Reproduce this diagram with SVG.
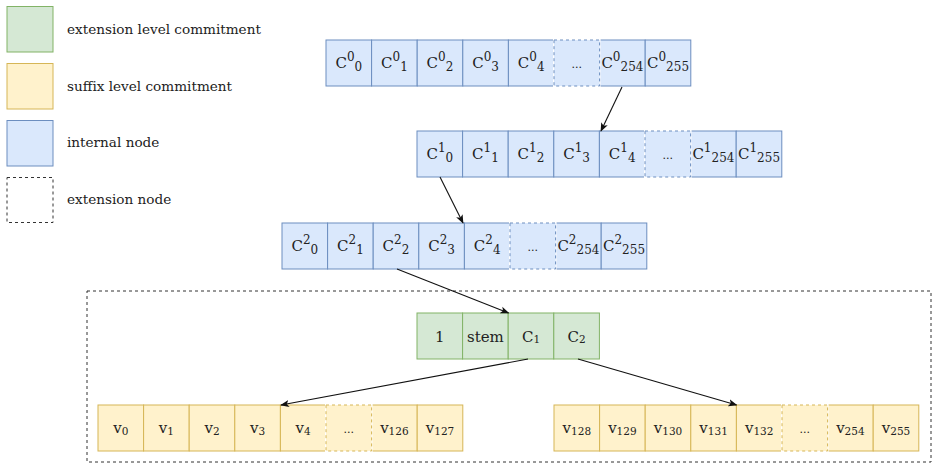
<svg xmlns="http://www.w3.org/2000/svg" width="938" height="471" viewBox="0 0 938 471">
<style>
text{font-family:"DejaVu Serif","Liberation Serif",serif;fill:#222}
.lg{font-size:13.6px}
.t{font-size:15px;text-anchor:middle}
.s{font-size:12px}
.s2{font-size:10.5px}
.el{font-size:11px}
.b{fill:#dae8fc;stroke:#6c8ebf;stroke-width:1}
.g{fill:#d5e8d4;stroke:#82b366;stroke-width:1}
.y{fill:#fff2cc;stroke:#d6b656;stroke-width:1}
.d{stroke-dasharray:3 3}
.er{fill:#ffffff;stroke:none}
.ext{fill:none;stroke:#333;stroke-width:1;stroke-dasharray:3 3}
.c{fill:none;stroke:#111;stroke-width:1.1;marker-end:url(#ah)}
</style>
<defs>
<marker id="ah" viewBox="0 0 10 10" refX="9" refY="5" markerWidth="9" markerHeight="9" markerUnits="userSpaceOnUse" orient="auto">
<path d="M0,1 L10,5 L0,9 L2.5,5 Z" fill="#111"/>
</marker>
</defs>
<rect width="938" height="471" fill="#ffffff"/>

<g id="legend-extension-commitment">
<rect class="g" x="7" y="6.5" width="46" height="45.5"/>
<text class="lg" x="67" y="34">extension level commitment</text>
</g>
<g id="legend-suffix-commitment">
<rect class="y" x="7" y="63.5" width="46" height="45.5"/>
<text class="lg" x="67" y="91">suffix level commitment</text>
</g>
<g id="legend-internal-node">
<rect class="b" x="7" y="120.5" width="46" height="45.5"/>
<text class="lg" x="67" y="147">internal node</text>
</g>
<g id="legend-extension-node">
<rect class="ext" x="7" y="177.5" width="46" height="45"/>
<text class="lg" x="67" y="204">extension node</text>
</g>

<g id="extension-node">
<rect class="ext" x="87" y="291" width="844" height="171"/>
</g>

<g id="internal-node-0">
<rect class="b" x="326" y="40" width="45.6" height="46"/>
<rect class="b" x="371.6" y="40" width="45.6" height="46"/>
<rect class="b" x="417.2" y="40" width="45.6" height="46"/>
<rect class="b" x="462.8" y="40" width="45.6" height="46"/>
<rect class="b" x="508.4" y="40" width="45.6" height="46"/>
<rect class="b" x="599.6" y="40" width="45.6" height="46"/>
<rect class="b" x="645.2" y="40" width="45.6" height="46"/>
<rect class="er" x="553" y="39" width="47.6" height="48"/>
<rect class="b d" x="554" y="40" width="45.6" height="46"/>
<text class="t" x="348.8" y="67.5">C<tspan class="s" dy="-7">0</tspan><tspan class="s" dy="10">0</tspan></text>
<text class="t" x="394.4" y="67.5">C<tspan class="s" dy="-7">0</tspan><tspan class="s" dy="10">1</tspan></text>
<text class="t" x="440" y="67.5">C<tspan class="s" dy="-7">0</tspan><tspan class="s" dy="10">2</tspan></text>
<text class="t" x="485.6" y="67.5">C<tspan class="s" dy="-7">0</tspan><tspan class="s" dy="10">3</tspan></text>
<text class="t" x="531.2" y="67.5">C<tspan class="s" dy="-7">0</tspan><tspan class="s" dy="10">4</tspan></text>
<text class="t el" x="576.8" y="67.5">...</text>
<text class="t" x="622.4" y="67.5">C<tspan class="s" dy="-7">0</tspan><tspan class="s" dy="10">254</tspan></text>
<text class="t" x="668" y="67.5">C<tspan class="s" dy="-7">0</tspan><tspan class="s" dy="10">255</tspan></text>
</g>

<g id="internal-node-1">
<rect class="b" x="417" y="131" width="45.6" height="46"/>
<rect class="b" x="462.6" y="131" width="45.6" height="46"/>
<rect class="b" x="508.2" y="131" width="45.6" height="46"/>
<rect class="b" x="553.8" y="131" width="45.6" height="46"/>
<rect class="b" x="599.4" y="131" width="45.6" height="46"/>
<rect class="b" x="690.6" y="131" width="45.6" height="46"/>
<rect class="b" x="736.2" y="131" width="45.6" height="46"/>
<rect class="er" x="644" y="130" width="47.6" height="48"/>
<rect class="b d" x="645" y="131" width="45.6" height="46"/>
<text class="t" x="439.8" y="158.5">C<tspan class="s" dy="-7">1</tspan><tspan class="s" dy="10">0</tspan></text>
<text class="t" x="485.4" y="158.5">C<tspan class="s" dy="-7">1</tspan><tspan class="s" dy="10">1</tspan></text>
<text class="t" x="531" y="158.5">C<tspan class="s" dy="-7">1</tspan><tspan class="s" dy="10">2</tspan></text>
<text class="t" x="576.6" y="158.5">C<tspan class="s" dy="-7">1</tspan><tspan class="s" dy="10">3</tspan></text>
<text class="t" x="622.2" y="158.5">C<tspan class="s" dy="-7">1</tspan><tspan class="s" dy="10">4</tspan></text>
<text class="t el" x="667.8" y="158.5">...</text>
<text class="t" x="713.4" y="158.5">C<tspan class="s" dy="-7">1</tspan><tspan class="s" dy="10">254</tspan></text>
<text class="t" x="759" y="158.5">C<tspan class="s" dy="-7">1</tspan><tspan class="s" dy="10">255</tspan></text>
</g>

<g id="internal-node-2">
<rect class="b" x="282" y="223" width="45.6" height="46"/>
<rect class="b" x="327.6" y="223" width="45.6" height="46"/>
<rect class="b" x="373.2" y="223" width="45.6" height="46"/>
<rect class="b" x="418.8" y="223" width="45.6" height="46"/>
<rect class="b" x="464.4" y="223" width="45.6" height="46"/>
<rect class="b" x="555.6" y="223" width="45.6" height="46"/>
<rect class="b" x="601.2" y="223" width="45.6" height="46"/>
<rect class="er" x="509" y="222" width="47.6" height="48"/>
<rect class="b d" x="510" y="223" width="45.6" height="46"/>
<text class="t" x="304.8" y="250.5">C<tspan class="s" dy="-7">2</tspan><tspan class="s" dy="10">0</tspan></text>
<text class="t" x="350.4" y="250.5">C<tspan class="s" dy="-7">2</tspan><tspan class="s" dy="10">1</tspan></text>
<text class="t" x="396" y="250.5">C<tspan class="s" dy="-7">2</tspan><tspan class="s" dy="10">2</tspan></text>
<text class="t" x="441.6" y="250.5">C<tspan class="s" dy="-7">2</tspan><tspan class="s" dy="10">3</tspan></text>
<text class="t" x="487.2" y="250.5">C<tspan class="s" dy="-7">2</tspan><tspan class="s" dy="10">4</tspan></text>
<text class="t el" x="532.8" y="250.5">...</text>
<text class="t" x="578.4" y="250.5">C<tspan class="s" dy="-7">2</tspan><tspan class="s" dy="10">254</tspan></text>
<text class="t" x="624" y="250.5">C<tspan class="s" dy="-7">2</tspan><tspan class="s" dy="10">255</tspan></text>
</g>

<g id="extension-commitment">
<rect class="g" x="417" y="313" width="45.6" height="46"/>
<rect class="g" x="462.6" y="313" width="45.6" height="46"/>
<rect class="g" x="508.2" y="313" width="45.6" height="46"/>
<rect class="g" x="553.8" y="313" width="45.6" height="46"/>
<text class="t" x="439.8" y="341.5">1</text>
<text class="t" x="485.4" y="341.5">stem</text>
<text class="t" x="531" y="341.5">C<tspan class="s2" dy="1.5">1</tspan></text>
<text class="t" x="576.6" y="341.5">C<tspan class="s2" dy="1.5">2</tspan></text>
</g>

<g id="suffix-commitment-left">
<rect class="y" x="98" y="405" width="45.6" height="46"/>
<rect class="y" x="143.6" y="405" width="45.6" height="46"/>
<rect class="y" x="189.2" y="405" width="45.6" height="46"/>
<rect class="y" x="234.8" y="405" width="45.6" height="46"/>
<rect class="y" x="280.4" y="405" width="45.6" height="46"/>
<rect class="y" x="371.6" y="405" width="45.6" height="46"/>
<rect class="y" x="417.2" y="405" width="45.6" height="46"/>
<rect class="er" x="325" y="404" width="47.6" height="48"/>
<rect class="y d" x="326" y="405" width="45.6" height="46"/>
<text class="t" x="120.8" y="433">v<tspan class="s2" dy="1.5">0</tspan></text>
<text class="t" x="166.4" y="433">v<tspan class="s2" dy="1.5">1</tspan></text>
<text class="t" x="212" y="433">v<tspan class="s2" dy="1.5">2</tspan></text>
<text class="t" x="257.6" y="433">v<tspan class="s2" dy="1.5">3</tspan></text>
<text class="t" x="303.2" y="433">v<tspan class="s2" dy="1.5">4</tspan></text>
<text class="t el" x="348.8" y="433">...</text>
<text class="t" x="394.4" y="433">v<tspan class="s2" dy="1.5">126</tspan></text>
<text class="t" x="440" y="433">v<tspan class="s2" dy="1.5">127</tspan></text>
</g>

<g id="suffix-commitment-right">
<rect class="y" x="554" y="405" width="45.6" height="46"/>
<rect class="y" x="599.6" y="405" width="45.6" height="46"/>
<rect class="y" x="645.2" y="405" width="45.6" height="46"/>
<rect class="y" x="690.8" y="405" width="45.6" height="46"/>
<rect class="y" x="736.4" y="405" width="45.6" height="46"/>
<rect class="y" x="827.6" y="405" width="45.6" height="46"/>
<rect class="y" x="873.2" y="405" width="45.6" height="46"/>
<rect class="er" x="781" y="404" width="47.6" height="48"/>
<rect class="y d" x="782" y="405" width="45.6" height="46"/>
<text class="t" x="576.8" y="433">v<tspan class="s2" dy="1.5">128</tspan></text>
<text class="t" x="622.4" y="433">v<tspan class="s2" dy="1.5">129</tspan></text>
<text class="t" x="668" y="433">v<tspan class="s2" dy="1.5">130</tspan></text>
<text class="t" x="713.6" y="433">v<tspan class="s2" dy="1.5">131</tspan></text>
<text class="t" x="759.2" y="433">v<tspan class="s2" dy="1.5">132</tspan></text>
<text class="t el" x="804.8" y="433">...</text>
<text class="t" x="850.4" y="433">v<tspan class="s2" dy="1.5">254</tspan></text>
<text class="t" x="896" y="433">v<tspan class="s2" dy="1.5">255</tspan></text>
</g>

<g id="connectors">
<line class="c" x1="622" y1="87" x2="601" y2="131"/>
<line class="c" x1="440" y1="177" x2="463" y2="223"/>
<line class="c" x1="397" y1="269" x2="508.5" y2="313"/>
<line class="c" x1="528" y1="359" x2="281" y2="405"/>
<line class="c" x1="578" y1="359" x2="736.5" y2="405"/>
</g>
</svg>
